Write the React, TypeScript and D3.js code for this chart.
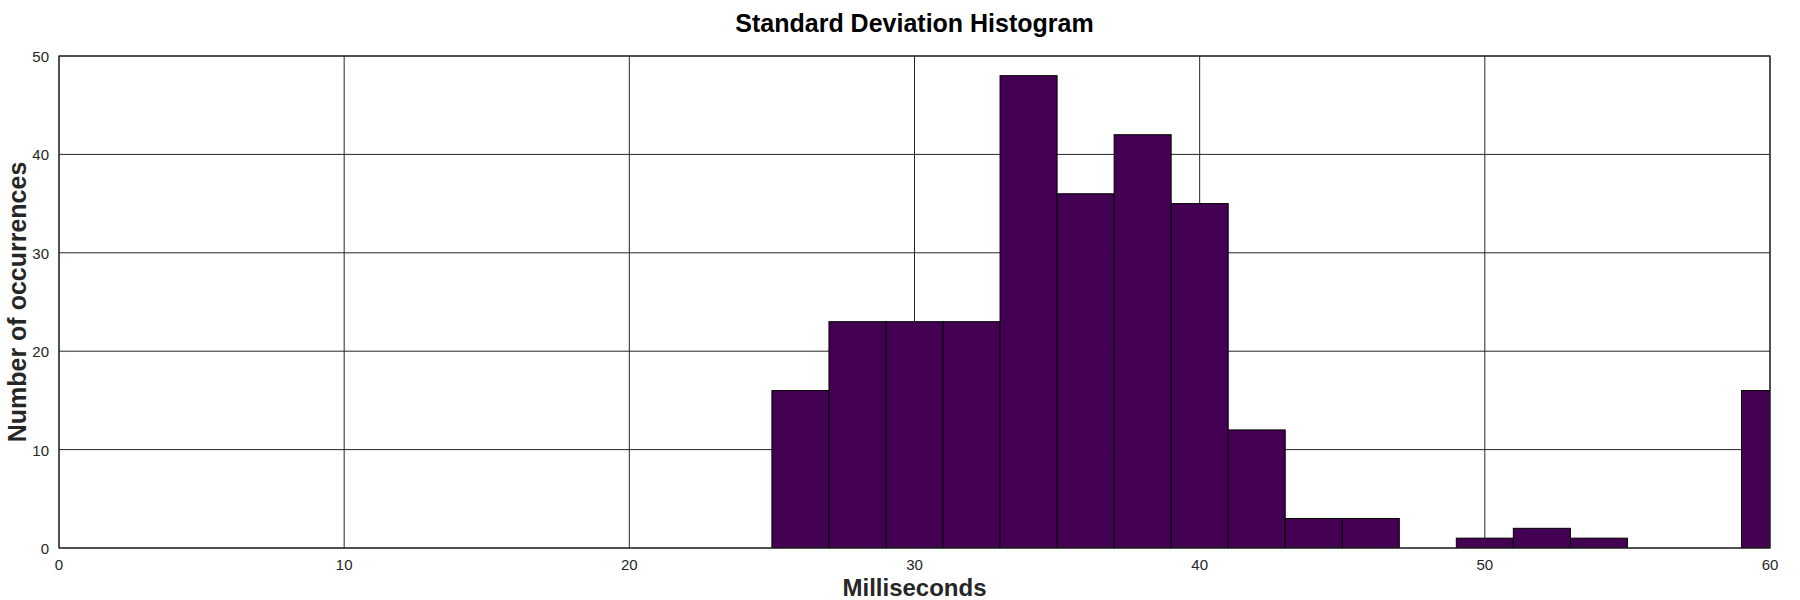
import React from "react";
import * as d3 from "d3";

// histogram bins (left edge, ms) and counts, bin width 2 ms
const binStarts = [25, 27, 29, 31, 33, 35, 37, 39, 41, 43, 45, 47, 49, 51, 53, 55, 57, 59];
const counts = [16, 23, 23, 23, 48, 36, 42, 35, 12, 3, 3, 0, 1, 2, 1, 0, 0, 16];
const binWidth = 2;
const xTicks = [0, 10, 20, 30, 40, 50, 60];
const yTicks = [0, 10, 20, 30, 40, 50];

const W = 1800;
const H = 600;
const margin = { top: 56, right: 30, bottom: 52, left: 59 };

const App: React.FC = () => {
  const innerW = W - margin.left - margin.right;
  const innerH = H - margin.top - margin.bottom;

  const x = d3.scaleLinear().domain([0, 60]).range([0, innerW]);
  const y = d3.scaleLinear().domain([0, 50]).range([innerH, 0]);

  const bins = binStarts.map((b, i) => ({ x0: b, x1: b + binWidth, n: counts[i] }));

  return (
    <svg
      width={W}
      height={H}
      style={{ display: "block", position: "absolute", left: 0, top: 0, background: "#fff" }}
      fontFamily="'Liberation Sans', Arial, sans-serif"
    >
      <defs>
        <clipPath id="plotClip">
          <rect x={0} y={0} width={innerW} height={innerH} />
        </clipPath>
      </defs>
      <g transform={`translate(${margin.left},${margin.top})`}>
        <text x={innerW / 2} y={-24} textAnchor="middle" fontSize={25} fontWeight="bold" fill="#000">
          Standard Deviation Histogram
        </text>
        {/* grid */}
        {xTicks.map((t) => (
          <line key={"gx" + t} x1={x(t)} x2={x(t)} y1={0} y2={innerH} stroke="#262626" strokeWidth={1} />
        ))}
        {yTicks.map((t) => (
          <line key={"gy" + t} x1={0} x2={innerW} y1={y(t)} y2={y(t)} stroke="#262626" strokeWidth={1} />
        ))}
        {/* bars */}
        <g clipPath="url(#plotClip)">
          {bins
            .filter((d) => d.n > 0)
            .map((d, i) => (
              <rect
                key={i}
                x={x(d.x0)}
                y={y(d.n)}
                width={x(d.x1) - x(d.x0)}
                height={y(0) - y(d.n)}
                fill="#440154"
                stroke="#000"
                strokeWidth={1}
              />
            ))}
        </g>
        {/* box */}
        <rect x={0} y={0} width={innerW} height={innerH} fill="none" stroke="#262626" strokeWidth={1.2} />
        {/* tick labels */}
        {xTicks.map((t) => (
          <text key={"tx" + t} x={x(t)} y={innerH + 22} textAnchor="middle" fontSize={15} fill="#262626">
            {t}
          </text>
        ))}
        {yTicks.map((t) => (
          <text key={"ty" + t} x={-10} y={y(t) + 6} textAnchor="end" fontSize={15} fill="#262626">
            {t}
          </text>
        ))}
        <text x={innerW / 2} y={innerH + 48} textAnchor="middle" fontSize={24} fontWeight="bold" fill="#262626">
          Milliseconds
        </text>
        <text
          transform={`translate(${26 - margin.left},${innerH / 2}) rotate(-90)`}
          textAnchor="middle"
          fontSize={25}
          fontWeight="bold"
          fill="#262626"
        >
          Number of occurrences
        </text>
      </g>
    </svg>
  );
};

export default App;
